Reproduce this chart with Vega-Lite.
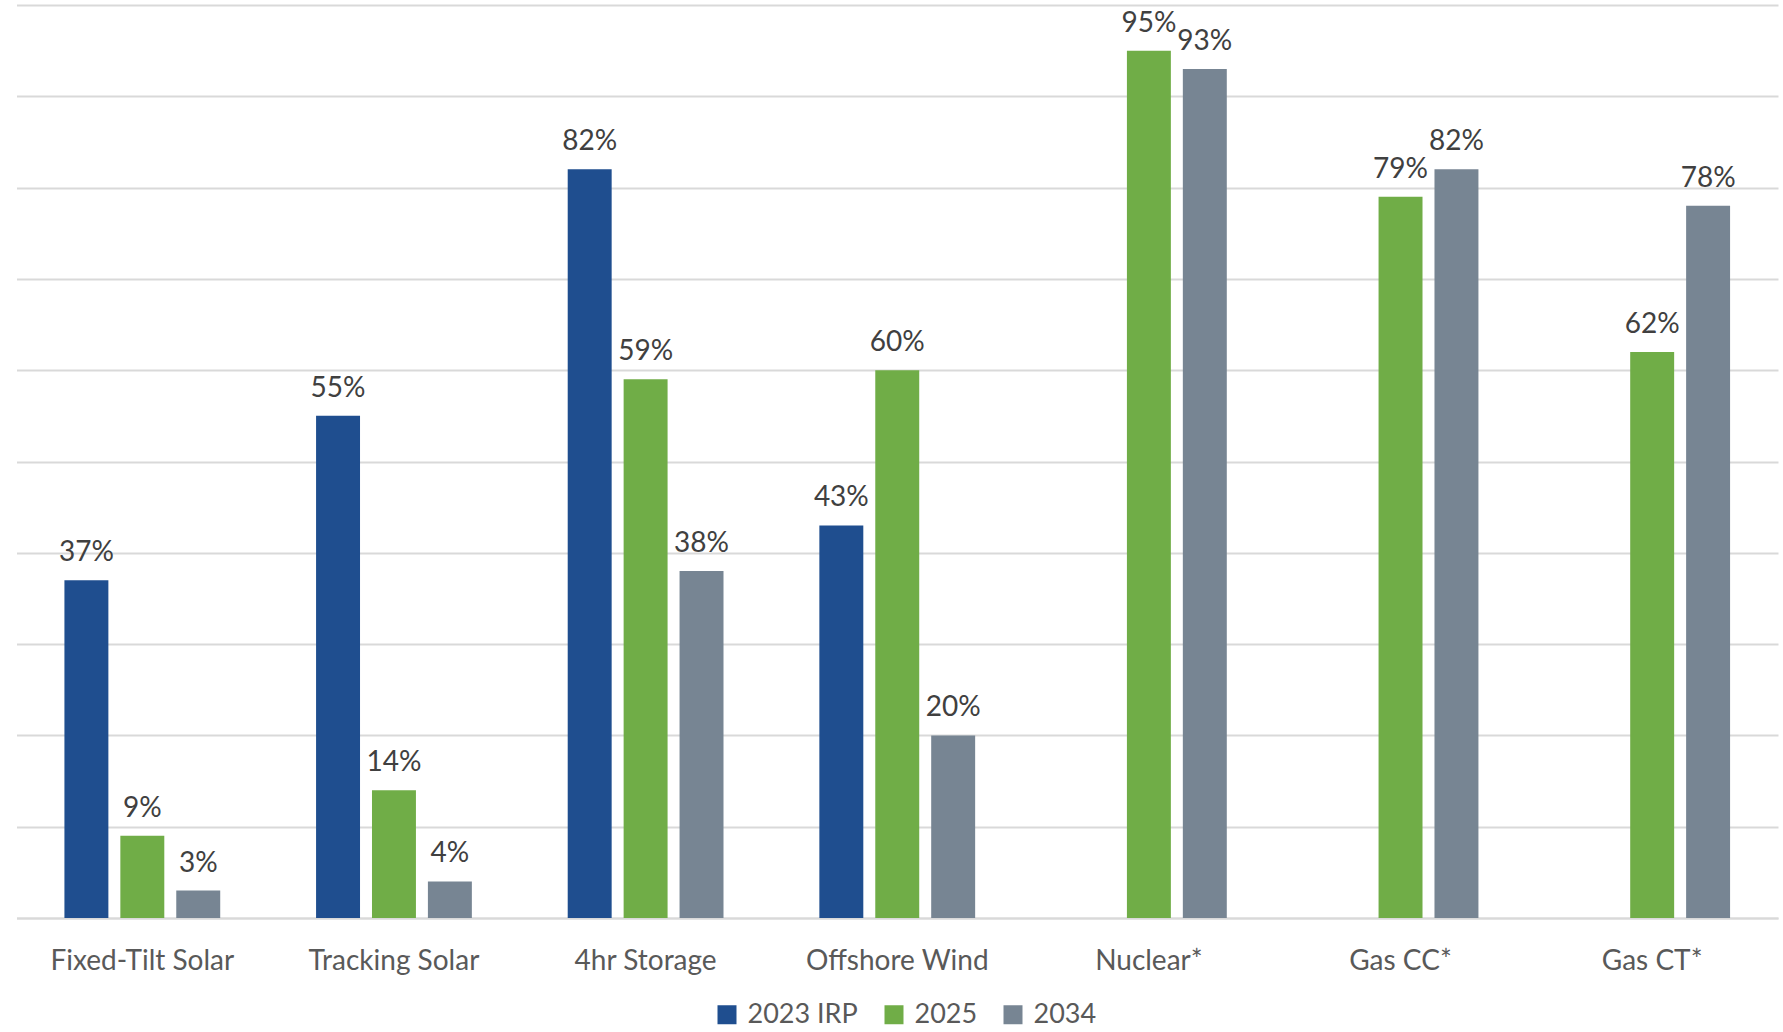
{
  "$schema": "https://vega.github.io/schema/vega-lite/v6.json",
  "width": 1761.5,
  "height": 913,
  "autosize": {"type": "none"},
  "padding": {"left": 16.5, "top": 5, "right": 5, "bottom": 114},
  "config": {
    "view": {"stroke": null},
    "font": "Lato",
    "legend": {"padding": 0}
  },
  "data": {
    "values": [
      {"tech": "Fixed-Tilt Solar", "series": "2023 IRP", "value": 0.37},
      {"tech": "Fixed-Tilt Solar", "series": "2025", "value": 0.09},
      {"tech": "Fixed-Tilt Solar", "series": "2034", "value": 0.03},
      {"tech": "Tracking Solar", "series": "2023 IRP", "value": 0.55},
      {"tech": "Tracking Solar", "series": "2025", "value": 0.14},
      {"tech": "Tracking Solar", "series": "2034", "value": 0.04},
      {"tech": "4hr Storage", "series": "2023 IRP", "value": 0.82},
      {"tech": "4hr Storage", "series": "2025", "value": 0.59},
      {"tech": "4hr Storage", "series": "2034", "value": 0.38},
      {"tech": "Offshore Wind", "series": "2023 IRP", "value": 0.43},
      {"tech": "Offshore Wind", "series": "2025", "value": 0.60},
      {"tech": "Offshore Wind", "series": "2034", "value": 0.20},
      {"tech": "Nuclear*", "series": "2025", "value": 0.95},
      {"tech": "Nuclear*", "series": "2034", "value": 0.93},
      {"tech": "Gas CC*", "series": "2025", "value": 0.79},
      {"tech": "Gas CC*", "series": "2034", "value": 0.82},
      {"tech": "Gas CT*", "series": "2025", "value": 0.62},
      {"tech": "Gas CT*", "series": "2034", "value": 0.78}
    ]
  },
  "encoding": {
    "x": {
      "field": "tech",
      "type": "nominal",
      "sort": ["Fixed-Tilt Solar", "Tracking Solar", "4hr Storage", "Offshore Wind", "Nuclear*", "Gas CC*", "Gas CT*"],
      "scale": {"paddingInner": 0, "paddingOuter": 0},
      "axis": {
        "title": null,
        "labelAngle": 0,
        "labelFont": "Lato",
        "labelFontSize": 28,
        "labelColor": "#595959",
        "labelPadding": 29,
        "labelLimit": 0,
        "ticks": false,
        "tickSize": 0,
        "domainColor": "#D9D9D9",
        "domainWidth": 2,
        "grid": false
      }
    },
    "xOffset": {
      "field": "series",
      "type": "nominal",
      "sort": ["2023 IRP", "2025", "2034"],
      "scale": {"paddingInner": 0.214, "paddingOuter": 0.857}
    },
    "y": {
      "field": "value",
      "type": "quantitative",
      "scale": {"domain": [0, 1], "nice": false},
      "axis": {
        "title": null,
        "labels": false,
        "ticks": false,
        "domain": false,
        "grid": true,
        "gridColor": "#D9D9D9",
        "gridWidth": 2,
        "values": [0, 0.1, 0.2, 0.3, 0.4, 0.5, 0.6, 0.7, 0.8, 0.9, 1.0]
      }
    }
  },
  "layer": [
    {
      "mark": {"type": "bar"},
      "encoding": {
        "color": {
          "field": "series",
          "type": "nominal",
          "scale": {
            "domain": ["2023 IRP", "2025", "2034"],
            "range": ["#1F4E8F", "#70AD47", "#778593"]
          },
          "legend": {
            "title": null,
            "orient": "none",
            "direction": "horizontal",
            "legendX": 697,
            "legendY": 996,
            "symbolType": "square",
            "symbolSize": 361,
            "symbolStrokeWidth": 0,
            "labelFont": "Lato",
            "labelFontSize": 27,
            "labelColor": "#595959",
            "labelOffset": 7,
            "columnPadding": 22
          }
        }
      }
    },
    {
      "mark": {
        "type": "text",
        "baseline": "alphabetic",
        "dy": -19,
        "font": "Lato",
        "fontSize": 28,
        "color": "#404040"
      },
      "encoding": {
        "text": {"field": "value", "type": "quantitative", "format": ".0%"}
      }
    }
  ]
}
